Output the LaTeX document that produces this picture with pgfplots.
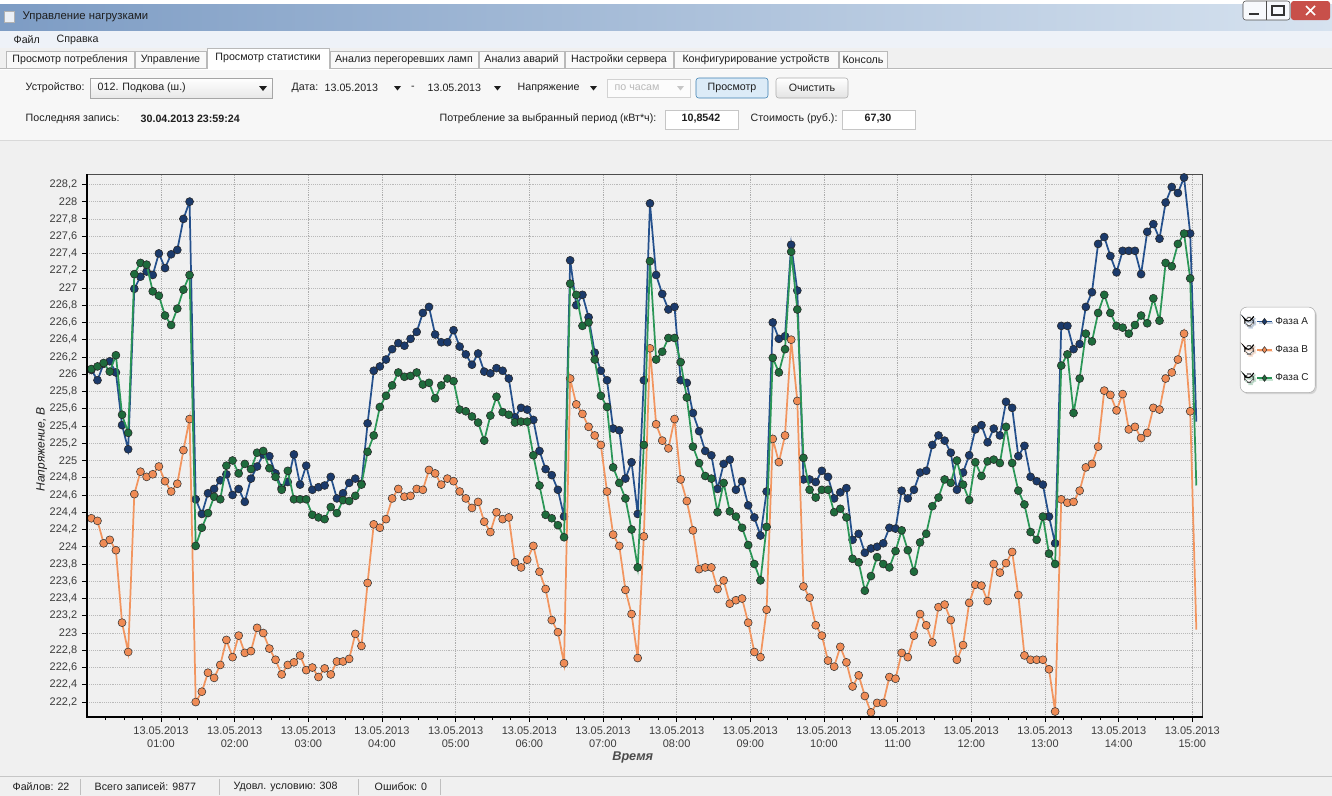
\documentclass[border=0pt]{standalone}
\usepackage{fontspec}
\setmainfont{Liberation Sans}
\usepackage{pgfplots}
\pgfplotsset{compat=1.18}
\usepackage{pgfplotstable}
\usetikzlibrary{shadows}

\definecolor{lineA}{HTML}{24508C}
\definecolor{markA}{HTML}{1B3A6B}
\definecolor{lineB}{HTML}{F2955F}
\definecolor{markB}{HTML}{EF8B55}
\definecolor{lineC}{HTML}{2A9656}
\definecolor{markC}{HTML}{1E6B3C}
\definecolor{chartbg}{HTML}{F0F0F0}
\definecolor{panel}{HTML}{F7F7F7}
\definecolor{txt}{HTML}{1E1E1E}
\definecolor{ticktxt}{HTML}{3C3C3C}
\definecolor{tbL}{HTML}{7D9CC4}
\definecolor{tbM}{HTML}{B7CBE2}
\definecolor{tbR}{HTML}{D6E2EF}
\definecolor{menubg}{HTML}{EEF2F8}
\definecolor{btnBlue}{HTML}{3C7FB1}
\definecolor{btnFill}{HTML}{DCEBF7}
\definecolor{closeRed}{HTML}{C8504A}

\newcommand{\ui}{\fontsize{8}{9.6}\selectfont}

\pgfplotstableread{
t A B C
3.3 226.05 224.33 226.06
8.3 225.93 224.30 226.09
13.3 226.12 224.04 226.13
18.3 226.15 224.08 226.03
23.3 226.02 223.96 226.22
28.3 225.41 223.12 225.53
33.3 225.13 222.78 225.32
38.3 226.99 224.61 227.16
43.3 227.13 224.87 227.29
48.3 227.19 224.81 227.27
53.3 227.15 224.84 226.96
58.3 227.40 224.93 226.91
63.3 227.23 224.76 226.68
68.3 227.39 224.64 226.57
73.3 227.44 224.73 226.76
78.3 227.80 225.12 226.98
83.3 228.00 225.48 227.15
88.3 224.55 222.20 224.01
93.3 224.38 222.32 224.22
98.3 224.62 222.54 224.39
103.3 224.67 222.48 224.58
108.3 224.77 222.63 224.55
113.3 224.84 222.92 224.94
118.3 224.60 222.72 225.00
123.3 224.67 222.97 224.85
128.3 224.52 222.77 224.96
133.3 224.79 222.79 224.90
138.3 224.93 223.06 225.09
143.3 225.07 223.00 225.11
148.3 225.05 222.82 224.91
153.3 224.85 222.69 224.81
158.3 224.68 222.52 224.66
163.3 224.75 222.63 224.88
168.3 225.07 222.66 224.55
173.3 224.72 222.74 224.55
178.3 224.94 222.57 224.55
183.3 224.66 222.60 224.37
188.3 224.69 222.49 224.34
193.3 224.71 222.59 224.32
198.3 224.81 222.52 224.46
203.3 224.56 222.67 224.39
208.3 224.62 222.67 224.54
213.3 224.74 222.70 224.53
218.3 224.79 222.99 224.59
223.3 224.73 222.85 224.72
228.3 225.43 223.58 225.10
233.3 226.04 224.26 225.29
238.3 226.09 224.22 225.62
243.3 226.17 224.32 225.75
248.3 226.29 224.56 225.87
253.3 226.36 224.67 226.02
258.3 226.33 224.58 225.97
263.3 226.41 224.59 225.98
268.3 226.49 224.67 226.02
273.3 226.71 224.66 225.88
278.3 226.78 224.89 225.90
283.3 226.46 224.85 225.72
288.3 226.37 224.72 225.87
293.3 226.37 224.79 225.95
298.3 226.51 224.76 225.92
303.3 226.32 224.64 225.59
308.3 226.23 224.56 225.57
313.3 226.11 224.45 225.51
318.3 226.24 224.52 225.44
323.3 226.03 224.29 225.23
328.3 226.01 224.17 225.52
333.3 226.07 224.40 225.74
338.3 226.04 224.32 225.56
343.3 225.95 224.34 225.53
348.3 225.50 223.82 225.44
353.3 225.61 223.76 225.45
358.3 225.59 223.85 225.45
363.3 225.47 224.01 225.06
368.3 225.11 223.71 224.71
373.3 224.90 223.51 224.37
378.3 224.83 223.15 224.33
383.3 224.66 223.01 224.25
388.3 224.35 222.65 224.11
393.3 227.32 225.95 227.05
398.3 226.80 225.65 226.92
403.3 226.92 225.54 226.56
408.3 226.66 225.39 226.60
413.3 226.25 225.29 226.17
418.3 226.04 225.18 225.75
423.3 225.93 224.64 225.62
428.3 225.37 224.14 224.92
433.3 225.35 224.01 224.74
438.3 224.79 223.50 224.56
443.3 224.98 223.22 224.20
448.3 224.38 222.71 223.76
453.3 225.93 224.12 225.18
458.3 227.98 226.30 227.31
463.3 227.15 225.42 226.17
468.3 226.93 225.23 226.26
473.3 226.75 225.14 226.42
478.3 226.78 225.48 226.42
483.3 225.93 224.78 226.14
488.3 225.90 224.53 225.73
493.3 225.55 224.19 225.16
498.3 225.34 223.74 224.97
503.3 225.11 223.76 224.82
508.3 225.06 223.76 224.79
513.3 224.67 223.51 224.40
518.3 224.96 223.61 224.74
523.3 225.01 223.34 224.41
528.3 224.66 223.38 224.35
533.3 224.76 223.40 224.22
538.3 224.48 223.12 224.02
543.3 224.34 222.78 223.80
548.3 224.13 222.72 223.61
553.3 224.64 223.27 224.23
558.3 226.60 225.25 226.19
563.3 226.41 224.98 226.02
568.3 226.44 225.29 226.29
573.3 227.50 226.40 227.42
578.3 226.97 225.69 226.75
583.3 224.78 223.54 225.03
588.3 224.78 223.41 224.66
593.3 224.75 223.09 224.57
598.3 224.88 222.97 224.66
603.3 224.81 222.68 224.66
608.3 224.56 222.61 224.40
613.3 224.63 222.84 224.44
618.3 224.68 222.66 224.34
623.3 224.08 222.38 223.86
628.3 224.15 222.51 223.82
633.3 223.93 222.27 223.49
638.3 223.98 222.08 223.66
643.3 224.00 222.19 223.88
648.3 224.04 222.19 223.80
653.3 224.22 222.49 223.76
658.3 224.21 222.47 223.95
663.3 224.65 222.77 224.19
668.3 224.56 222.72 223.96
673.3 224.66 222.97 223.71
678.3 224.86 223.22 224.05
683.3 224.88 223.09 224.15
688.3 225.18 222.89 224.47
693.3 225.29 223.30 224.57
698.3 225.23 223.33 224.78
703.3 225.09 223.15 224.74
708.3 224.66 222.69 225.00
713.3 224.86 222.86 224.72
718.3 225.06 223.35 224.54
723.3 225.36 223.56 224.98
728.3 225.41 223.55 224.82
733.3 225.21 223.37 224.99
738.3 225.37 223.80 225.01
743.3 225.29 223.70 224.97
748.3 225.68 223.81 225.39
753.3 225.61 223.94 224.97
758.3 225.05 223.44 224.65
763.3 225.17 222.74 224.49
768.3 224.81 222.69 224.17
773.3 224.76 222.69 224.08
778.3 224.72 222.69 224.35
783.3 224.35 222.58 223.92
788.3 224.04 222.09 223.80
793.3 226.56 224.55 226.10
798.3 226.56 224.51 226.23
803.3 226.29 224.52 225.55
808.3 226.35 224.65 225.95
813.3 226.78 224.92 226.47
818.3 226.95 224.96 226.38
823.3 227.51 225.16 226.71
828.3 227.59 225.81 226.92
833.3 227.37 225.76 226.71
838.3 227.18 225.58 226.56
843.3 227.43 225.77 226.54
848.3 227.43 225.36 226.47
853.3 227.43 225.39 226.57
858.3 227.16 225.26 226.68
863.3 227.65 225.32 226.59
868.3 227.74 225.61 226.88
873.3 227.57 225.59 226.62
878.3 227.99 225.95 227.29
883.3 228.17 226.02 227.25
888.3 228.10 226.17 227.51
893.3 228.28 226.47 227.63
898.3 227.63 225.57 227.11
}\data

\begin{document}
\begin{tikzpicture}
\begin{scope}[x=0.75pt,y=-0.75pt]
  % window background
  \fill[white] (0,0) rectangle (1332,796);
  % title bar
  \shade[left color=tbL, middle color=tbM, right color=tbR] (0,4) rectangle (1332,31);
  \fill[white!85!tbL, draw=gray!60] (4,11) rectangle (14,22);
  \node[anchor=west, font=\fontsize{8.5}{10}\selectfont, text=txt] at (18,17) {Управление нагрузками};
  % window buttons
  \draw[gray!60!black, fill=white!80!tbR, rounded corners=2pt] (1243,1) rectangle (1290,20);
  \draw[gray!60!black] (1266,1) -- (1266,20);
  \draw[gray!40!black, line width=1pt] (1249,14) -- (1259,14);
  \draw[gray!40!black, line width=0.8pt] (1272,6) rectangle (1284,15);
  \fill[closeRed, rounded corners=2pt] (1291,1) rectangle (1330,20);
  \draw[white, line width=1.3pt] (1306,6) -- (1315,15) (1306,15) -- (1315,6);
  % menu bar
  \fill[menubg] (0,31) rectangle (1332,48);
  \node[anchor=west, font=\ui, text=txt] at (9,40) {Файл};
  \node[anchor=west, font=\ui, text=txt] at (52,40) {Справка};
  % tab strip
  \fill[chartbg] (0,48) rectangle (1332,69);
  \draw[gray!55] (0,68.5) -- (1332,68.5);
  \foreach \a/\b/\t in {6/134/Просмотр потребления,135/206/Управление,330/478/Анализ перегоревших ламп,479/564/Анализ аварий,565/673/Настройки сервера,674/838/Конфигурирование устройств,839/887/Консоль}{
    \draw[gray!55, fill=white!60!chartbg] (\a,51) rectangle (\b,68.5);
    \node[font=\ui, text=txt] at ({(\a+\b)/2},59.5) {\t};
  }
  \draw[gray!55, fill=white] (207,68.5) -- (207,48) -- (329,48) -- (329,68.5);
  \fill[white] (207.5,48.5) rectangle (328.5,69.5);
  \node[font=\ui, text=txt] at (268,57.5) {Просмотр статистики};
  % controls panel
  \fill[panel] (0,69.5) rectangle (1332,140);
  \draw[gray!30] (0,140.5) -- (1332,140.5);
  \node[anchor=west, font=\ui, text=txt] at (21,88) {Устройство:};
  \shade[top color=white, bottom color=gray!18] (90,78) rectangle (272,98);
  \draw[gray!70] (90,78) rectangle (272,98);
  \node[anchor=west, font=\ui, text=txt] at (93,88) {012. Подкова (ш.)};
  \fill[txt] (259,86) -- (267,86) -- (263,91) -- cycle;
  \node[anchor=west, font=\ui, text=txt] at (287,88) {Дата:};
  \node[anchor=west, font=\ui, text=txt] at (320,88) {13.05.2013};
  \fill[txt] (394,86) -- (401,86) -- (397.5,90.5) -- cycle;
  \node[font=\ui, text=txt] at (413,88) {-};
  \node[anchor=west, font=\ui, text=txt] at (423,88) {13.05.2013};
  \fill[txt] (494,86) -- (501,86) -- (497.5,90.5) -- cycle;
  \node[anchor=west, font=\ui, text=txt] at (513,88) {Напряжение};
  \fill[txt] (590,86) -- (597,86) -- (593.5,90.5) -- cycle;
  \draw[gray!35, fill=white!60!panel] (607,79) rectangle (690,97);
  \node[anchor=west, font=\ui, text=gray!55] at (610,88) {по часам};
  \fill[gray!45] (677,86) -- (684,86) -- (680.5,90.5) -- cycle;
  \draw[btnBlue, fill=btnFill, rounded corners=2pt] (696,78) rectangle (768,98);
  \node[font=\ui, text=txt] at (732,88) {Просмотр};
  \shade[top color=white, bottom color=gray!22, rounded corners=2pt] (776,78) rectangle (848,98);
  \draw[gray!65, rounded corners=2pt] (776,78) rectangle (848,98);
  \node[font=\ui, text=txt] at (812,88) {Очистить};
  \node[anchor=west, font=\ui, text=txt] at (21,119) {Последняя запись:};
  \node[anchor=west, font=\ui\bfseries, text=txt] at (136,119) {30.04.2013 23:59:24};
  \node[anchor=east, font=\ui, text=txt] at (661,119) {Потребление за выбранный период (кВт*ч):};
  \draw[gray!45, fill=white] (665,110) rectangle (738,129);
  \node[font=\ui\bfseries, text=txt] at (701,119) {10,8542};
  \node[anchor=west, font=\ui, text=txt] at (746,119) {Стоимость (руб.):};
  \draw[gray!45, fill=white] (842,110) rectangle (915,129);
  \node[font=\ui\bfseries, text=txt] at (878,119) {67,30};
  % chart panel
  \fill[chartbg] (0,141) rectangle (1332,776);
  % status bar
  \fill[chartbg] (0,776) rectangle (1332,796);
  \draw[gray!45] (0,776.5) -- (1332,776.5);
  \node[anchor=west, font=\ui, text=txt] at (8,787) {Файлов: 22};
  \node[anchor=west, font=\ui, text=txt] at (90,787) {Всего записей: 9877};
  \node[anchor=west, font=\ui, text=txt] at (229,787) {Удовл. условию: 308};
  \node[anchor=west, font=\ui, text=txt] at (370,787) {Ошибок: 0};
  \foreach \s in {80,219,358,440}{\draw[gray!50] (\s,779) -- (\s,795);}
\end{scope}

\begin{axis}[
  at={(65.475pt,-537.525pt)}, anchor=south west,
  scale only axis, width=836.55pt, height=407pt,
  xmin=0, xmax=908.5, ymin=222.03, ymax=228.32,
  clip mode=individual,
  axis line style={draw=gray!60!black, line width=0.7pt},
  xtick={60,120,...,900},
  xticklabels={{13.05.2013\\01:00},{13.05.2013\\02:00},{13.05.2013\\03:00},{13.05.2013\\04:00},{13.05.2013\\05:00},{13.05.2013\\06:00},{13.05.2013\\07:00},{13.05.2013\\08:00},{13.05.2013\\09:00},{13.05.2013\\10:00},{13.05.2013\\11:00},{13.05.2013\\12:00},{13.05.2013\\13:00},{13.05.2013\\14:00},{13.05.2013\\15:00}},
  minor xtick={15,30,...,900},
  ytick={222.2,222.4,222.6,222.8,223,223.2,223.4,223.6,223.8,224,224.2,224.4,224.6,224.8,225,225.2,225.4,225.6,225.8,226,226.2,226.4,226.6,226.8,227,227.2,227.4,227.6,227.8,228,228.2},
  xtick pos=bottom, ytick pos=left,
  tick align=outside,
  major tick length=4pt, minor tick length=2.5pt,
  tick style={black, line width=0.6pt},
  grid=major,
  x grid style={gray!65, densely dotted, line width=0.6pt},
  y grid style={gray!55, densely dotted, line width=0.5pt},
  xticklabel style={align=center, font=\fontsize{8.25}{9.5}\selectfont, text=ticktxt},
  yticklabel style={font=\fontsize{8.25}{9.5}\selectfont, text=ticktxt},
  /pgf/number format/.cd, use comma, fixed, precision=1, assume math mode=true, 1000 sep={},
  /pgfplots/.cd,
  ylabel={Напряжение, В},
  ylabel style={at={(axis description cs:-0.0409,0.493)}, anchor=center, font=\fontsize{9}{10}\selectfont\itshape, text=txt},
  xlabel={Время},
  xlabel style={at={(axis description cs:0.489,-0.0743)}, anchor=center, font=\fontsize{9.5}{11}\selectfont\itshape\bfseries, text=txt!80},
  legend style={at={(1.0334,0.676)}, anchor=west, draw=gray!65, fill=white, rounded corners=5pt,
    inner xsep=3pt, inner ysep=5.5pt, row sep=10.5pt,
    font=\fontsize{7.5}{9}\selectfont, text=txt,
    drop shadow={opacity=0.25, shadow xshift=1.2pt, shadow yshift=-1.2pt}},
  legend cell align=left,
  legend image code/.code={
    \draw[fill=white, draw=gray!60!black, line width=0.4pt, solid] (0pt,-3.4pt) rectangle (6.8pt,3.4pt);
    \draw[black, line width=0.9pt, solid] (1.3pt,0.3pt) -- (2.9pt,-2pt) -- (6.9pt,3.9pt);
    \draw[#1, mark=none] (9.5pt,0pt) -- (20.5pt,0pt);
    \draw[#1, mark=diamond*, mark size=2.4pt] plot coordinates {(15pt,0pt)};
  },
]
\addplot[lineA, line width=1.3pt, forget plot] coordinates {(898.3,227.63) (903.3,225.45)};
\addplot[lineB, line width=1.3pt, forget plot] coordinates {(898.3,225.57) (903.3,223.04)};
\addplot[lineC, line width=1.3pt, forget plot] coordinates {(898.3,227.11) (903.3,224.71)};
\addplot[lineA, line width=1.3pt, mark=*, mark size=3pt, mark options={fill=markA, draw=black!85, line width=0.4pt, solid}] table[x=t, y=A] {\data};
\addlegendentry{Фаза А}
\addplot[lineB, line width=1.3pt, mark=*, mark size=3pt, mark options={fill=markB, draw=black!80, line width=0.4pt, solid}] table[x=t, y=B] {\data};
\addlegendentry{Фаза В}
\addplot[lineC, line width=1.3pt, mark=*, mark size=3pt, mark options={fill=markC, draw=black!85, line width=0.4pt, solid}] table[x=t, y=C] {\data};
\addlegendentry{Фаза С}
\draw[black, line width=1.5pt] (rel axis cs:0,1) -- (rel axis cs:0,0) -- (rel axis cs:1,0);
\end{axis}
\pgfresetboundingbox
\useasboundingbox (0pt,0pt) rectangle (999pt,-597pt);
\end{tikzpicture}
\end{document}
